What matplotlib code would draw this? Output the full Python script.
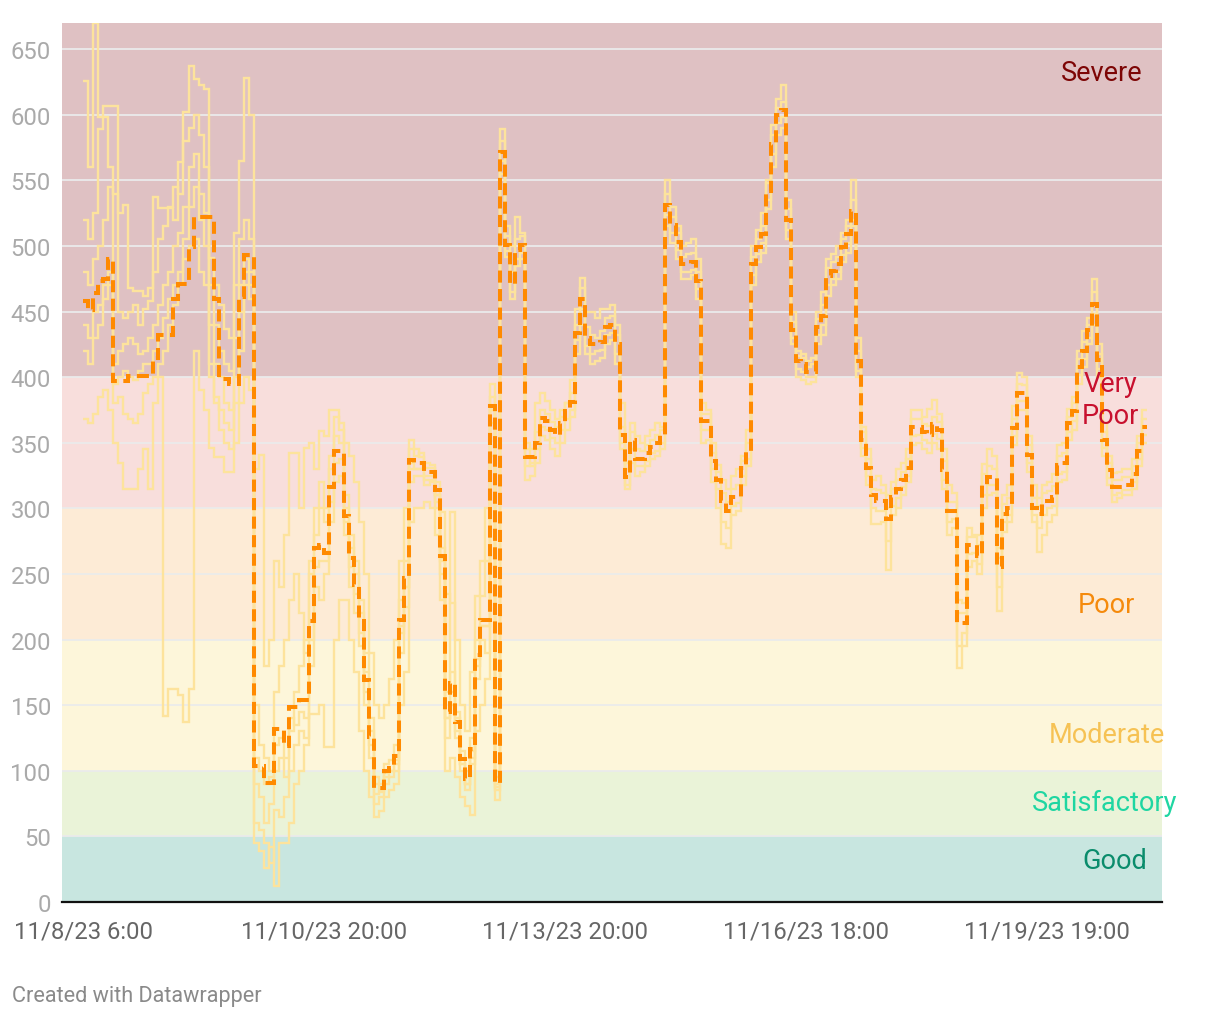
import numpy as np
import matplotlib.pyplot as plt

plt.rcParams['font.family'] = ['Roboto', 'DejaVu Sans']

# x axis is an index of readings, labelled at a few dates
tick_pos = [0, 48, 96, 144, 192]
tick_labels = ["11/8/23 6:00", "11/10/23 20:00", "11/13/23 20:00",
               "11/16/23 18:00", "11/19/23 19:00"]

# AQI bands
band_lo = [0, 50, 100, 200, 300, 400]
band_hi = [50, 100, 200, 300, 400, 670]
band_colors = ["#c8e6e0", "#eaf3d8", "#fdf6da", "#fdebd6", "#f8dedc", "#dfc1c3"]
band_names = ["Good", "Satisfactory", "Moderate", "Poor", "Very\nPoor", "Severe"]
band_text_colors = ["#0b8c6c", "#1fd6a2", "#f6c254", "#f58a0c", "#c8102e", "#7d0505"]

# city average
avg = [
    458, 451, 464, 473, 475, 490, 397, 397, 397, 401,
    401, 401, 401, 401, 415, 432, 432, 432, 460, 471,
    471, 499, 522, 522, 522, 522, 460, 399, 399, 395,
    395, 461, 493, 493, 104, 104, 91, 91, 132, 132,
    119, 149, 149, 154, 154, 214, 270, 272, 266, 316,
    344, 344, 294, 262, 242, 214, 169, 126, 87, 87,
    100, 102, 111, 215, 247, 337, 335, 335, 328, 328,
    314, 264, 145, 167, 137, 109, 94, 117, 188, 215,
    215, 378, 91, 572, 501, 471, 497, 501, 339, 339,
    350, 369, 367, 360, 356, 365, 374, 381, 434, 460,
    430, 425, 425, 427, 438, 440, 425, 356, 324, 352,
    338, 338, 342, 347, 350, 356, 531, 516, 503, 486,
    486, 488, 473, 367, 367, 336, 322, 306, 298, 309,
    309, 331, 344, 486, 499, 509, 542, 578, 600, 604,
    520, 436, 412, 410, 404, 404, 438, 447, 477, 481,
    486, 499, 509, 527, 412, 352, 331, 310, 306, 306,
    292, 309, 315, 322, 331, 362, 362, 358, 356, 364,
    360, 329, 298, 298, 213, 213, 272, 272, 264, 318,
    324, 324, 255, 296, 300, 361, 388, 388, 341, 300,
    296, 306, 306, 309, 333, 335, 365, 374, 408, 420,
    436, 456, 413, 352, 329, 316, 316, 318, 318, 326,
    344, 362,
]

# individual stations
station_1 = [
    626, 560, 670, 598, 607, 607, 607, 525, 531, 468,
    466, 466, 462, 468, 537, 529, 529, 529, 520, 564,
    602, 637, 627, 623, 620, 491, 470, 455, 437, 430,
    510, 565, 628, 600, 330, 341, 180, 200, 260, 240,
    280, 342, 342, 300, 346, 350, 330, 359, 355, 375,
    375, 365, 350, 340, 320, 290, 250, 190, 150, 140,
    150, 170, 200, 260, 300, 352, 345, 339, 331, 331,
    300, 297, 235, 228, 200, 150, 130, 175, 233, 260,
    300, 395, 100, 589, 515, 500, 522, 510, 350, 345,
    380, 388, 382, 375, 368, 375, 380, 398, 452, 476,
    450, 450, 445, 452, 452, 455, 440, 380, 335, 365,
    355, 350, 355, 360, 365, 362, 550, 530, 515, 500,
    502, 505, 490, 380, 375, 350, 333, 322, 315, 325,
    330, 340, 360, 500, 512, 525, 550, 592, 612, 623,
    535, 450, 420, 418, 412, 415, 450, 465, 490, 494,
    500, 510, 520, 550, 430, 362, 345, 322, 325, 318,
    310, 320, 330, 335, 345, 375, 375, 370, 376, 383,
    372, 345, 318, 312, 230, 228, 285, 280, 280, 334,
    345, 340, 270, 310, 318, 378, 403, 400, 355, 318,
    308, 318, 320, 326, 348, 350, 376, 385, 420, 435,
    445, 475, 425, 365, 340, 327, 328, 330, 330, 338,
    355, 375,
]
station_2 = [
    368, 365, 372, 385, 390, 375, 350, 335, 315, 315,
    315, 330, 345, 315, 380, 400, 142, 162, 162, 158,
    137, 162, 420, 390, 375, 346, 339, 339, 328, 328,
    350, 380, 400, 390, 45, 39, 26, 42, 12, 45,
    45, 60, 90, 100, 120, 143, 143, 150, 118, 118,
    200, 230, 230, 200, 175, 130, 100, 80, 65, 69,
    80, 85, 90, 150, 175, 290, 300, 300, 305, 300,
    280, 230, 100, 110, 95, 80, 73, 66, 130, 150,
    170, 340, 78, 555, 492, 460, 485, 490, 322, 325,
    335, 355, 352, 345, 340, 350, 360, 370, 418, 440,
    418, 410, 412, 415, 425, 428, 410, 345, 315, 335,
    325, 328, 332, 338, 340, 345, 515, 502, 490, 475,
    475, 478, 460, 350, 352, 320, 300, 273, 270, 295,
    298, 318, 332, 470, 488, 495, 528, 560, 585, 590,
    505, 425, 400, 398, 395, 396, 425, 432, 462, 470,
    475, 488, 495, 515, 400, 340, 318, 288, 288, 290,
    253, 295, 300, 310, 320, 348, 350, 345, 342, 350,
    345, 315, 280, 285, 178, 195, 255, 260, 250, 300,
    310, 312, 222, 282, 290, 348, 375, 375, 328, 290,
    267, 280, 290, 295, 320, 322, 352, 360, 395, 408,
    425, 440, 400, 340, 318, 305, 308, 310, 310, 315,
    332, 350,
]
station_3 = [
    520, 505, 525, 589, 598, 560, 540, 450, 445, 450,
    455, 440, 452, 458, 480, 505, 515, 530, 545, 540,
    580, 590, 600, 585, 560, 470, 440, 420, 410, 405,
    470, 505, 520, 505, 90, 80, 60, 75, 100, 110,
    95, 130, 160, 180, 200, 250, 300, 300, 290, 330,
    355, 350, 310, 280, 260, 230, 190, 140, 95, 90,
    105, 108, 120, 230, 260, 345, 340, 342, 335, 333,
    320, 270, 160, 175, 145, 115, 100, 125, 200, 233,
    260, 385, 95, 580, 508, 480, 505, 508, 345, 332,
    358, 375, 372, 366, 362, 370, 380, 388, 440, 468,
    438, 432, 430, 435, 445, 447, 432, 362, 330, 358,
    345, 344, 348, 352, 356, 360, 540, 522, 510, 492,
    494, 495, 480, 372, 372, 342, 328, 312, 305, 315,
    318, 336, 350, 492, 505, 515, 548, 585, 605, 610,
    528, 442, 416, 415, 408, 410, 444, 455, 483, 488,
    492, 505, 515, 535, 420, 358, 338, 315, 314, 312,
    300, 315, 322, 328, 338, 368, 368, 364, 363, 370,
    366, 336, 305, 305, 220, 220, 278, 278, 272, 326,
    332, 330, 262, 303, 308, 368, 395, 394, 348, 308,
    302, 312, 313, 317, 340, 342, 370, 380, 414, 427,
    440, 465, 418, 358, 335, 322, 322, 324, 324, 332,
    350, 368,
]
station_4 = [
    420, 410, 430, 440, 460, 470, 380, 385, 372, 368,
    365, 372, 388, 395, 400, 410, 420, 440, 455, 470,
    490, 500, 505, 480, 470, 410, 380, 360, 350, 345,
    380, 420, 470, 470, 60, 55, 45, 30, 70, 65,
    80, 100, 120, 130, 125, 180, 240, 230, 250, 290,
    320, 325, 280, 240, 220, 195, 150, 110, 75, 80,
    90, 95, 100, 190, 225, 320, 325, 325, 318, 320,
    305, 250, 125, 150, 125, 100, 85, 105, 170, 200,
    190, 365, 85, 565, 496, 465, 490, 495, 332, 335,
    345, 362, 360, 354, 350, 360, 368, 375, 428, 452,
    424, 418, 420, 421, 432, 434, 418, 350, 318, 345,
    332, 332, 336, 342, 344, 350, 524, 510, 497, 480,
    480, 482, 467, 360, 360, 330, 315, 290, 285, 302,
    304, 325, 338, 478, 494, 502, 535, 570, 594, 598,
    512, 430, 406, 404, 400, 400, 432, 440, 470, 475,
    480, 493, 502, 520, 405, 346, 325, 300, 298, 298,
    275, 302, 308, 316, 325, 355, 356, 352, 350, 357,
    353, 322, 290, 292, 195, 205, 265, 266, 258, 310,
    318, 318, 240, 290, 295, 355, 382, 382, 335, 295,
    285, 295, 300, 302, 326, 328, 358, 367, 402, 414,
    430, 448, 406, 346, 323, 310, 312, 314, 314, 320,
    338, 356,
]
# two stations that only report for the first days
station_5 = [
    480, 470, 490, 500, 520, 545, 410, 420, 425, 430,
    425, 418, 420, 430, 440, 455, 470, 480, 500, 510,
    530, 560, 570, 540, 525, 440, 410, 400, 380, 375,
    430, 470, 490, 480, 150, 120, 110, 100, 160, 180,
    200, 230, 250, 220, 190, 260, 280, 320, 300, 340,
    370, 360, 300, 270, 250, 220, 175, 130, 90, 85,
    95, 100, 108, 210, 240, 330, 330, 330, 325, 325,
    310, 260, 140, 297, 140, 105, 90, 115, 185, 210,
    210, 375, 90,
]
station_6 = [
    440, 430, 450, 455, 470, 480, 395, 400, 405, 400,
    398, 405, 410, 410, 420, 430, 445, 460, 470, 480,
    505, 530, 545, 520, 500, 400, 385, 375, 365, 360,
    400, 450, 480, 460, 110, 100, 90, 95, 120, 125,
    110, 140, 135, 145, 140, 200, 255, 260, 260, 305,
    335, 338, 290, 255, 235, 205, 160, 120, 82, 84,
    98, 100, 105, 205, 240, 335, 330, 330, 322, 322,
    310, 262, 140, 160, 130, 105, 90, 110, 180, 210,
    210, 375, 88,
]
stations = [station_1, station_2, station_3, station_4, station_5, station_6]

fig = plt.figure(figsize=(12.2, 10.2), dpi=100)
ax = fig.add_axes([62 / 1220, 1 - 903 / 1020, 1100 / 1220, 879 / 1020])

for lo, hi, c in zip(band_lo, band_hi, band_colors):
    ax.axhspan(lo, hi, color=c, lw=0, zorder=0)
for y in range(50, 700, 50):
    ax.axhline(y, color="#ebebeb", lw=1.3, zorder=1)

for s in stations:
    ax.stairs(s, np.arange(len(s) + 1), baseline=None,
              color="#fde39c", lw=1.7, zorder=2)
ax.stairs(avg, np.arange(len(avg) + 1), baseline=None, color="#ff8a00",
          lw=2.9, linestyle=(0, (3, 1.6)), zorder=3)

# band labels
label_x = [212, 218, 215.5, 209.6, 204.6, 211]
label_y = [32, 76, 128, 227, 383, 632]
label_ha = ["right", "right", "right", "right", "center", "right"]
for name, c, x, y, ha in zip(band_names, band_text_colors, label_x, label_y, label_ha):
    ax.text(x, y, name, color=c, fontsize=19.5, ha=ha, va="center",
            linespacing=1.25, zorder=5, clip_on=False)

ax.set_xlim(-4.2, 214.9)
ax.set_ylim(0, 670)
ax.set_xticks(tick_pos)
ax.set_xticklabels(tick_labels, fontsize=17.2, color="#666666")
ax.set_yticks(range(0, 700, 50))
ax.set_yticklabels([str(v) for v in range(0, 700, 50)], fontsize=17.2, color="#aaaaaa")
ax.tick_params(axis="both", length=0)
ax.tick_params(axis="x", pad=12.5)
ax.tick_params(axis="y", pad=8)

for side in ["top", "left", "right"]:
    ax.spines[side].set_visible(False)
ax.spines["bottom"].set_color("#111111")
ax.spines["bottom"].set_linewidth(1.6)
ax.spines["bottom"].set_zorder(6)

fig.text(12 / 1220, 1 - 997 / 1020, "Created with Datawrapper",
         color="#8a8a8a", fontsize=15.6, va="center", ha="left")

fig.savefig("out.png", dpi=100)
